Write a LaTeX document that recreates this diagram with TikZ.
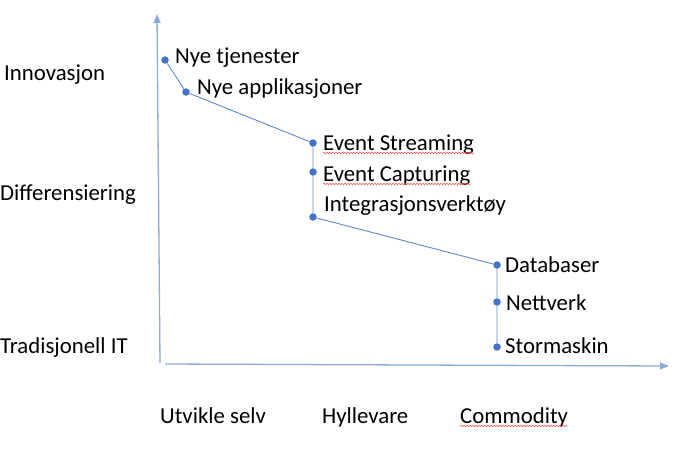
\documentclass[tikz,border=0pt]{standalone}
\usepackage{fontspec}
\setmainfont{Carlito}
\usetikzlibrary{arrows.meta,calc,decorations.pathmorphing}
\definecolor{accent}{HTML}{4472C4}
\definecolor{axisblue}{HTML}{8FAADC}

\begin{document}
\begin{tikzpicture}[x=1pt,y=-1pt,
  dot/.style={circle,fill=accent,inner sep=0pt,minimum size=7.5pt},
  lbl/.style={anchor=base west,inner sep=0pt,font=\fontsize{22.8}{25}\selectfont},
  squig/.style={red!70,line width=0.5pt,decorate,decoration={snake,amplitude=0.8pt,segment length=3pt}}]
\useasboundingbox (0,0) rectangle (700,448);
% axes
\coordinate (ybot) at (160,363);
\coordinate (ytop) at (157,14);
\coordinate (xleft) at (165,364);
\coordinate (xright) at (669,366);
\draw [axisblue, line width=1.3pt, -{Triangle[length=9pt,width=7pt]}] (ybot) -- (ytop);
\draw [axisblue, line width=1.3pt, -{Triangle[length=9pt,width=7pt]}] (xleft) -- (xright);
% points
\node [dot] (tje) at (165,60) {};
\node [dot] (app) at (186,92) {};
\node [dot] (str) at (313,143) {};
\node [dot] (cap) at (313,172) {};
\node [dot] (int) at (313,217) {};
\node [dot] (dat) at (497,265) {};
\node [dot] (net) at (497,302) {};
\node [dot] (sto) at (497,347) {};
\draw [accent!85, line width=0.9pt] (tje) -- (app) -- (str) -- (cap) -- (int) -- (dat) -- (net) -- (sto);
% labels at the points
\node [lbl] (ltje) at (175,63) {Nye tjenester};
\node [lbl] (lapp) at (197,94) {Nye applikasjoner};
\node [lbl] (lstr) at (323,150) {Event Streaming};
\node [lbl] (lcap) at (323,181) {Event Capturing};
\node [lbl] (lint) at (324,211) {Integrasjonsverktøy};
\node [lbl] (ldat) at (505,272) {Databaser};
\node [lbl] (lnet) at (506,310) {Nettverk};
\node [lbl] (lsto) at (505,353) {Stormaskin};
% levels
\node [lbl] (inn) at (4,80) {Innovasjon};
\node [lbl] (dif) at (0,200) {Differensiering};
\node [lbl] (tra) at (0,353) {Tradisjonell IT};
\node [lbl] (utv) at (160,423) {Utvikle selv};
\node [lbl] (hyl) at (322,423) {Hyllevare};
\node [lbl] (com) at (460,423) {Commodity};
% spelling marks
\draw [squig] ($(lstr.base west)+(0,3)$) -- ($(lstr.base east)+(0,3)$);
\draw [squig] ($(lcap.base west)+(0,3)$) -- ($(lcap.base east)+(0,3)$);
\draw [squig] ($(com.base west)+(0,3)$) -- ($(com.base east)+(0,3)$);
\end{tikzpicture}
\end{document}
